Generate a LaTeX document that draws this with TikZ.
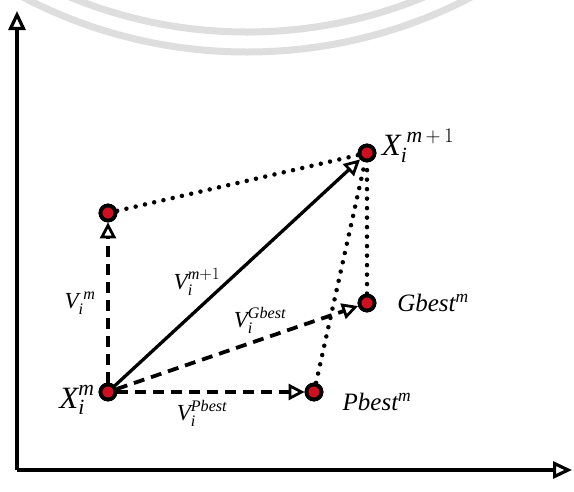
\documentclass[tikz,border=0pt]{standalone}
\usepackage{amsmath}
\usepackage{fontspec}
\setmainfont{Liberation Serif}
\usetikzlibrary{arrows.meta}
\definecolor{ptred}{HTML}{D01020}
\definecolor{wmark}{HTML}{DEDEDE}
\tikzset{
  pt/.style={circle, draw=black, fill=ptred, line width=3.8pt, minimum size=15pt, inner sep=0pt},
  opentip/.style={-{Triangle[open, length=16pt, width=16pt, line width=2.8pt]}},
  dasharrow/.style={line width=3.8pt, dash pattern=on 11pt off 7pt, opentip},
  solidarrow/.style={line width=3.3pt, opentip},
  dotline/.style={line width=4.5pt, line cap=round, dash pattern=on 0pt off 9.5pt},
  axisline/.style={line width=4.3pt, -{Triangle[open, length=19pt, width=17pt, line width=3.2pt]}},
  lab/.style={inner sep=0pt},
  bigtxt/.style={font=\fontsize{31}{31}\selectfont},
  midtxt/.style={font=\fontsize{23}{23}\selectfont},
  ptname/.style={font=\fontsize{25}{25}\selectfont\itshape},
}
\begin{document}
\begin{tikzpicture}[x=1pt,y=-1pt]
\useasboundingbox[fill=white] (0,0) rectangle (574,491);
% watermark arcs
\begin{scope}
  \clip (0,0) rectangle (574,491);
  \draw[wmark, line width=7pt] (247,-432) circle[radius=484pt];
  \draw[wmark, line width=7pt] (247,-432) circle[radius=464pt];
\end{scope}
% axes
\coordinate (O) at (17,470);
\coordinate (ytip) at (17,11);
\coordinate (xtip) at (572,470);
\draw[axisline] (O) -- (ytip);
\draw[axisline] (O) -- (xtip);
% points
\node[pt] (xi) at (108,392) {};
\node[pt] (vm) at (108,213) {};
\node[pt] (pb) at (314,392) {};
\node[pt] (gb) at (367,303) {};
\node[pt] (xn) at (367,153) {};
% connectors
\draw[dotline] (vm) -- (xn);
\draw[dotline] (gb) -- (xn);
\draw[dotline] (pb) -- (xn);
\draw[dasharrow] (xi) -- (vm);
\draw[dasharrow] (xi) -- (pb);
\draw[dasharrow] (xi) -- (gb);
\draw[solidarrow] (xi) -- (xn);
\node[pt] at (xi) {};
\node[pt] at (vm) {};
\node[pt] at (pb) {};
\node[pt] at (gb) {};
\node[pt] at (xn) {};
% labels
\node[lab, bigtxt] (lxi) at (77,400) {$\textit{X}_{\textit{i}}^{\textit{m}}$};
\node[lab, bigtxt] (lxn) at (418,146) {$\textit{X}_{\textit{i}}^{\;\textit{m}\,+\,1}$};
\node[lab, midtxt] (lvm) at (80,303) {$\textit{V}_{\textit{i}}^{\;\textit{m}}$};
\node[lab, midtxt] (lvn) at (197,282) {$\textit{V}_{\textit{i}}^{\textit{m}+1}$};
\node[lab, midtxt] (lvg) at (260,320) {$\textit{V}_{\textit{i}}^{\textit{Gbest}}$};
\node[lab, midtxt] (lvp) at (202,413) {$\textit{V}_{\textit{i}}^{\textit{Pbest}}$};
\node[lab, ptname] (lgb) at (433,303) {Gbest\textsuperscript{m}};
\node[lab, ptname] (lpb) at (377,402) {Pbest\textsuperscript{m}};
\end{tikzpicture}
\end{document}
